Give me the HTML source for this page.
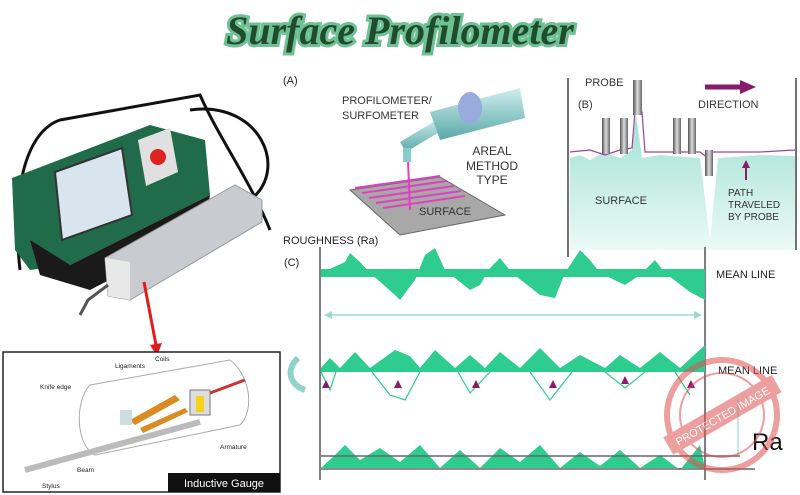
<!DOCTYPE html>
<html><head><meta charset="utf-8"><style>
html,body{margin:0;padding:0;background:#fff;}
svg{display:block;font-family:"Liberation Sans",sans-serif;}
</style></head><body>
<svg width="800" height="495" viewBox="0 0 800 495" xmlns="http://www.w3.org/2000/svg">
<defs>
<linearGradient id="teal" x1="0" y1="0" x2="0" y2="1"><stop offset="0" stop-color="#9fe0d2"/><stop offset="1" stop-color="#ecfaf6"/></linearGradient>
<linearGradient id="probe" x1="0" y1="0" x2="1" y2="0"><stop offset="0" stop-color="#555"/><stop offset="0.5" stop-color="#ddd"/><stop offset="1" stop-color="#666"/></linearGradient>
<linearGradient id="cyl" x1="0" y1="0" x2="0" y2="1"><stop offset="0" stop-color="#cfeeee"/><stop offset="1" stop-color="#5aa8a8"/></linearGradient>
</defs>
<!-- Title -->
<text x="400" y="44" text-anchor="middle" font-family="Liberation Serif,serif" font-style="italic" font-weight="bold" font-size="40" fill="#1f4d2c" stroke="#6fc095" stroke-width="6" paint-order="stroke">Surface Profilometer</text>

<!-- Device -->
<path d="M20,270 C10,180 30,130 60,120 L200,95 C220,140 250,180 270,230" fill="none" stroke="#111" stroke-width="3"/>
<path d="M190,110 C260,100 290,170 250,200" fill="none" stroke="#111" stroke-width="3"/>
<polygon points="12,178 150,125 205,140 210,195 70,265 30,270 15,250" fill="#1f6b4a"/>
<polygon points="30,240 70,265 210,195 205,230 90,290 40,275" fill="#1a1a1a"/>
<polygon points="55,172 122,148 132,215 62,240" fill="#d8e4ee" stroke="#333" stroke-width="2"/>
<polygon points="138,140 170,128 178,172 146,186" fill="#e0e0e0"/>
<circle cx="158" cy="157" r="8" fill="#d22"/>
<!-- silver probe -->
<polygon points="105,258 235,185 262,200 262,222 130,300 108,296" fill="#c8ccd0" stroke="#999"/>
<polygon points="105,258 130,262 130,300 108,296" fill="#e8e8e8"/>
<path d="M108,285 L88,300 L80,315" stroke="#555" stroke-width="3" fill="none"/>
<!-- red arrow -->
<line x1="144" y1="282" x2="156" y2="345" stroke="#e31b1b" stroke-width="3"/>
<polygon points="150,345 162,343 157,356" fill="#e31b1b"/>

<!-- Inductive gauge box -->
<rect x="3" y="352" width="277" height="140" fill="#fff" stroke="#222" stroke-width="1.5"/>
<rect x="168" y="473" width="112" height="19" fill="#111"/>
<text x="224" y="487" text-anchor="middle" font-size="11" fill="#fff">Inductive Gauge</text>
<path d="M90,385 L230,360 M95,455 L240,425 M90,385 C75,400 75,445 95,455 M230,360 C250,375 255,410 240,425" stroke="#aaa" fill="none"/>
<line x1="25" y1="470" x2="200" y2="422" stroke="#bbb" stroke-width="6"/>
<polygon points="130,420 175,395 180,400 135,425" fill="#d98a20"/>
<polygon points="140,428 185,408 188,412 143,433" fill="#d98a20"/>
<rect x="120" y="410" width="12" height="15" fill="#cdd"/>
<rect x="190" y="390" width="20" height="25" fill="#ddd" stroke="#777"/>
<rect x="196" y="396" width="8" height="16" fill="#f5d21c"/>
<path d="M210,393 L245,380" stroke="#c33" stroke-width="3"/>
<g font-size="6.5" fill="#222">
<text x="155" y="361">Coils</text><text x="115" y="368">Ligaments</text><text x="40" y="389">Knife edge</text>
<text x="220" y="449">Armature</text><text x="77" y="472">Beam</text><text x="42" y="488">Stylus</text>
</g>

<!-- Panel A -->
<text x="283" y="84" font-size="11" fill="#222">(A)</text>
<text x="342" y="104" font-size="11" fill="#333">PROFILOMETER/</text>
<text x="342" y="119" font-size="11" fill="#333">SURFOMETER</text>
<g font-size="12" fill="#333" text-anchor="middle"><text x="492" y="155">AREAL</text><text x="492" y="170">METHOD</text><text x="492" y="184">TYPE</text></g>
<polygon points="350,190 440,177 505,215 400,235" fill="#a8a8a8" stroke="#666"/>
<g stroke="#e040c0" stroke-width="2">
<line x1="355" y1="188" x2="440" y2="176"/><line x1="362" y1="193" x2="447" y2="181"/><line x1="369" y1="198" x2="454" y2="186"/><line x1="376" y1="203" x2="461" y2="191"/><line x1="383" y1="208" x2="465" y2="196"/>
<line x1="408" y1="160" x2="410" y2="210"/></g>
<text x="445" y="215" font-size="11" fill="#333" text-anchor="middle">SURFACE</text>
<polygon points="400,142 440,118 446,128 406,152" fill="url(#cyl)"/>
<polygon points="430,112 520,88 525,118 440,140" fill="url(#cyl)"/>
<ellipse cx="470" cy="108" rx="12" ry="16" fill="#9ad"/>
<rect x="403" y="148" width="8" height="14" fill="#8cc"/>
<text x="283" y="244" font-size="11" fill="#222">ROUGHNESS (Ra)</text>

<!-- Panel B -->
<line x1="568" y1="78" x2="568" y2="257" stroke="#444" stroke-width="1.5"/>
<line x1="796" y1="78" x2="796" y2="250" stroke="#444" stroke-width="1.5"/>
<path d="M570,158 L580,155 L590,160 L605,152 L620,158 L632,150 L636,115 L642,158 L660,155 L700,158 L710,240 L718,158 L760,155 L795,156 L795,250 L570,250 Z" fill="url(#teal)"/>
<polyline points="570,152 590,150 605,155 620,150 632,148 635,112 642,112 645,152 700,152 708,158 712,152 760,152 795,150" fill="none" stroke="#a040a0" stroke-width="1.2"/>
<g fill="url(#probe)"><rect x="602" y="118" width="8" height="36"/><rect x="620" y="118" width="8" height="36"/><rect x="633" y="80" width="9" height="35"/><rect x="673" y="118" width="8" height="36"/><rect x="688" y="118" width="8" height="36"/><rect x="705" y="150" width="8" height="26"/></g>
<text x="585" y="86" font-size="11" fill="#333">PROBE</text>
<text x="578" y="108" font-size="11" fill="#333">(B)</text>
<text x="698" y="108" font-size="11" fill="#333">DIRECTION</text>
<line x1="705" y1="87" x2="742" y2="87" stroke="#8a1a6a" stroke-width="5"/><polygon points="740,80 756,87 740,94" fill="#8a1a6a"/>
<line x1="746" y1="180" x2="746" y2="166" stroke="#8a1a6a" stroke-width="2"/><polygon points="742,168 746,160 750,168" fill="#8a1a6a"/>
<text x="595" y="204" font-size="11" fill="#333">SURFACE</text>
<g font-size="10" fill="#333"><text x="728" y="196">PATH</text><text x="728" y="208">TRAVELED</text><text x="728" y="220">BY PROBE</text></g>

<!-- Panel C -->
<text x="284" y="266" font-size="11" fill="#222">(C)</text>
<line x1="320" y1="247" x2="320" y2="480" stroke="#555" stroke-width="1.5"/>
<line x1="705" y1="247" x2="705" y2="480" stroke="#555" stroke-width="1.5"/>
<path d="M321,273 L345,262 L350,253 L360,262 L370,273 L395,295 L400,300 L415,280 L425,255 L435,248 L445,270 L470,290 L480,285 L490,268 L500,258 L512,273 L540,295 L555,298 L565,273 L580,250 L590,260 L600,273 L625,285 L640,275 L655,260 L665,273 L690,292 L705,300 L705,273 Z" fill="#2ecc8f"/>
<line x1="321" y1="273" x2="705" y2="273" stroke="#2ecc8f" stroke-width="8"/>
<text x="716" y="278" font-size="11" fill="#222">MEAN LINE</text>
<line x1="326" y1="315" x2="700" y2="315" stroke="#9fd9cc" stroke-width="1.5"/>
<polygon points="324,315 332,311 332,319" fill="#9fd9cc"/><polygon points="702,315 694,311 694,319" fill="#9fd9cc"/>
<path d="M321,368 L330,358 L340,368 L355,352 L370,368 L395,350 L410,356 L420,368 L435,350 L455,368 L470,355 L485,368 L500,352 L520,368 L540,348 L560,368 L580,355 L605,368 L620,355 L640,368 L660,352 L680,368 L705,345 L705,372 L321,372 Z" fill="#2ecc8f"/>
<path d="M321,372 L330,390 L336,372 M372,372 L390,395 L405,400 L420,372 M458,372 L470,393 L490,372 M530,372 L550,400 L572,372 M605,372 L625,388 L645,372 M675,372 L690,395" fill="none" stroke="#2ecc8f" stroke-width="1.2"/>
<g fill="#8a1a6a"><polygon points="322,388 326,380 330,388"/><polygon points="394,388 398,380 402,388"/><polygon points="472,388 476,380 480,388"/><polygon points="549,388 553,380 557,388"/><polygon points="621,384 625,376 629,384"/><polygon points="687,388 691,380 695,388"/></g>
<text x="718" y="374" font-size="11" fill="#222">MEAN LINE</text>
<path d="M298,358 C285,370 290,385 305,390" fill="none" stroke="#8fd3c8" stroke-width="6"/>
<path d="M321,468 L335,455 L345,445 L360,460 L380,448 L400,462 L420,445 L440,468 L460,450 L480,468 L500,448 L520,462 L540,445 L560,468 L580,452 L600,466 L620,450 L640,468 L660,455 L680,470 L700,445 L705,468 Z" fill="#2ecc8f"/>
<line x1="321" y1="456" x2="740" y2="456" stroke="#666" stroke-width="1.5"/>
<line x1="321" y1="469" x2="755" y2="469" stroke="#666" stroke-width="1.5"/>
<line x1="738" y1="400" x2="738" y2="455" stroke="#8fd3c8" stroke-width="1"/>
<text x="752" y="450" font-size="24" fill="#111">Ra</text>
<!-- stamp -->
<g opacity="0.55"><circle cx="722" cy="415" r="55" fill="none" stroke="#e05050" stroke-width="6"/><circle cx="722" cy="415" r="42" fill="none" stroke="#e05050" stroke-width="2"/>
<rect x="660" y="405" width="125" height="20" fill="#e05050" transform="rotate(-30 722 415)"/>
<text x="722" y="420" font-size="11" fill="#fff" text-anchor="middle" transform="rotate(-30 722 415)">PROTECTED IMAGE</text></g>
</svg>
</body></html>
